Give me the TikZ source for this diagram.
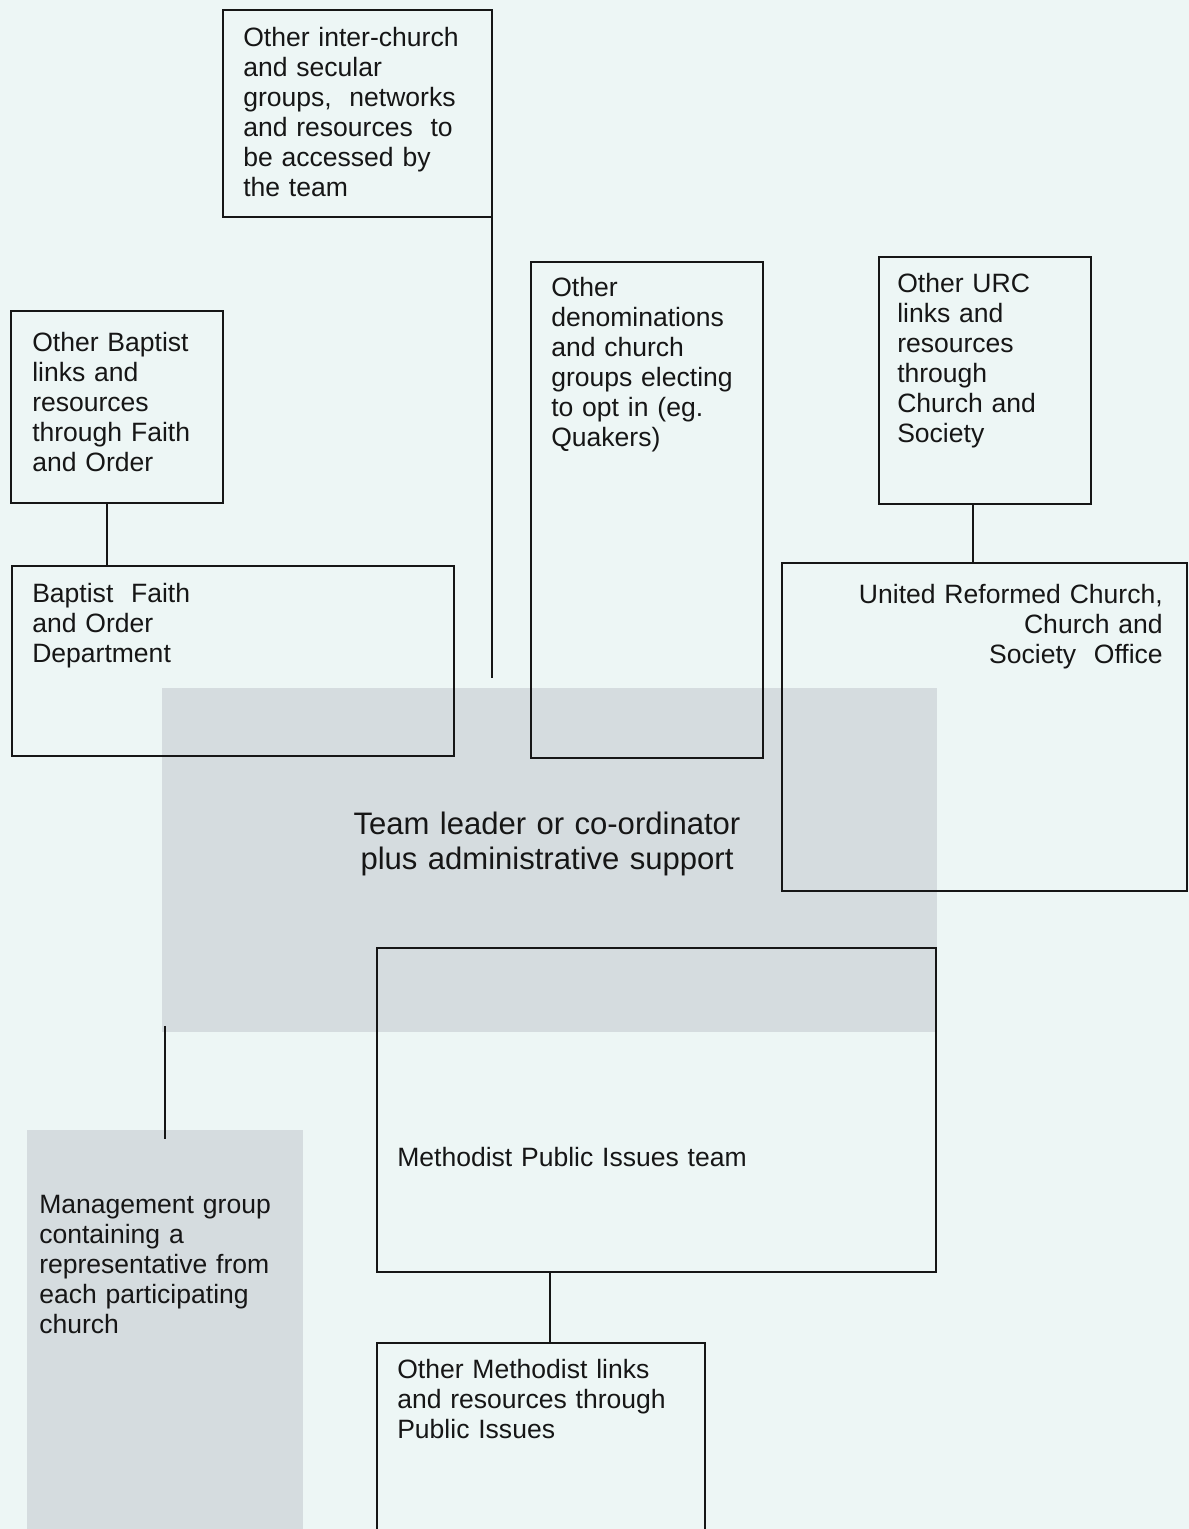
\documentclass[tikz,border=0pt]{standalone}
\usepackage{fontspec}
\setmainfont{Liberation Sans}
\definecolor{paper}{RGB}{237,246,245}
\definecolor{shade}{RGB}{213,220,223}
\definecolor{ink}{RGB}{22,22,22}
\begin{document}
\begin{tikzpicture}[x=0.75pt,y=-0.75pt,
  box/.style={draw=ink, line width=1.25pt, rectangle, inner sep=0pt, anchor=north west},
  shadebox/.style={fill=shade, draw=none, rectangle, inner sep=0pt, anchor=north west},
  sz/.style 2 args={minimum width=#1*0.75pt, minimum height=#2*0.75pt},
  txt/.style={inner sep=0pt, anchor=base west, align=left, text width=320pt, text=ink,
    font=\fontsize{19.9}{22.6}\selectfont},
  link/.style={draw=ink, line width=1.25pt}]
\useasboundingbox (0,0) rectangle (1189,1529);
\clip (0,0) rectangle (1189,1529);
\fill[paper] (0,0) rectangle (1189,1529);

% shaded areas
\node[shadebox, sz={775}{344}] (T) at (162,688) {};
\node[shadebox, sz={276}{410}] (M) at (27,1130) {};

% boxes
\node[box, sz={269}{207}] (A) at (222,9) {};
\node[box, sz={212}{192}] (B) at (10,310) {};
\node[box, sz={442}{190}] (C) at (11,565) {};
\node[box, sz={232}{496}] (D) at (530,261) {};
\node[box, sz={212}{247}] (E) at (878,256) {};
\node[box, sz={405}{328}] (F) at (781,562) {};
\node[box, sz={559}{324}] (G) at (376,947) {};
\node[box, sz={328}{220}] (H) at (376,1342) {};

% texts
\node[txt] (tA) at (243,46) {Other inter-church\\and secular\\groups,\ \ networks\\and resources\ \ to\\be accessed by\\the team};
\node[txt] (tB) at (32,351) {Other Baptist\\links and\\resources\\through Faith\\and Order};
\node[txt] (tC) at (32,602) {Baptist\ \ Faith\\and Order\\Department};
\node[txt] (tD) at (551,296) {Other\\denominations\\and church\\groups electing\\to opt in (eg.\\Quakers)};
\node[txt] (tE) at (897,292) {Other URC\\links and\\resources\\through\\Church and\\Society};
\node[txt, anchor=base east, align=right] (tF) at (1163,603) {United Reformed Church,\\Church and\\Society\ \ Office};
\node[txt, anchor=base, align=center, font=\fontsize{23.3}{26.3}\selectfont] (tT) at (547,834) {Team leader or co-ordinator\\plus administrative support};
\node[txt] (tG) at (397,1166) {Methodist Public Issues team};
\node[txt] (tH) at (397,1378) {Other Methodist links\\and resources through\\Public Issues};
\node[txt] (tM) at (39,1213) {Management group\\containing a\\representative from\\each participating\\church};

% connector x positions and free end
\coordinate (aend) at (492,678);
\coordinate (xbc) at (107,0);
\coordinate (xef) at (973,0);
\coordinate (xgh) at (550,0);
\coordinate (xtm) at (165,0);

\draw[link] (A.south east -| aend) -- (aend);
\draw[link] (B.south -| xbc) -- (C.north -| xbc);
\draw[link] (E.south -| xef) -- (F.north -| xef);
\draw[link] (G.south -| xgh) -- (H.north -| xgh);
\draw[link] ([yshift=5]T.south -| xtm) -- ([yshift=-7]M.north -| xtm);
\end{tikzpicture}
\end{document}
